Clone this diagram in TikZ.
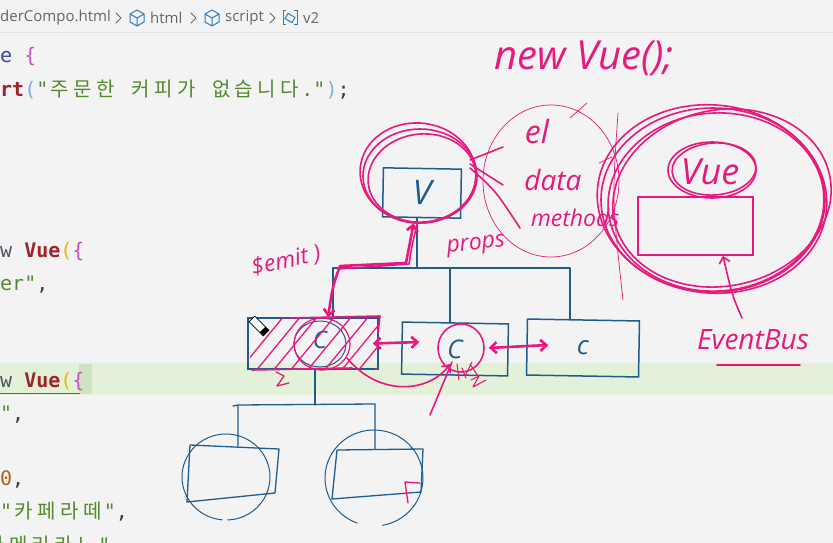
\documentclass[tikz,border=0pt]{standalone}
\usepackage{fontspec}
\setmainfont{Open Sans}
\newfontfamily\codefont{DejaVu Sans Mono}
\newfontfamily\krfont{Noto Sans CJK KR}
\newcommand\hk{\kern4.5pt}
\newcommand\hh{\kern2.25pt}
\usetikzlibrary{arrows.meta,calc}
\definecolor{bg}{HTML}{F3F3F3}
\definecolor{crumbline}{HTML}{E2E2E2}
\definecolor{band}{HTML}{E3F1D8}
\definecolor{penblue}{HTML}{1E5C8E}
\definecolor{penpink}{HTML}{E8197D}
\definecolor{kwred}{HTML}{9E2427}
\definecolor{strgreen}{HTML}{548A2E}
\definecolor{numbrown}{HTML}{B0601E}
\definecolor{parenblue}{HTML}{6FB3E6}
\definecolor{parenyellow}{HTML}{E5B810}
\definecolor{bracepink}{HTML}{C64FC8}
\definecolor{plaintxt}{HTML}{3B3B3B}
\definecolor{kwblue}{HTML}{3A48A0}
\definecolor{kwgray}{HTML}{505060}
\definecolor{crumbtext}{HTML}{666666}
\definecolor{iconblue}{HTML}{2D7CC1}
\definecolor{matchbox}{HTML}{CFE2C2}
\begin{document}
\begin{tikzpicture}[x=1pt,y=-1pt,
  >={Straight Barb[length=6pt,width=11pt]},
  bbox/.style={draw=penblue, line width=1.5pt, inner sep=0pt, text=penblue, font=\itshape\fontsize{26}{28}\selectfont},
  bline/.style={draw=penblue, line width=1.3pt, line cap=round, line join=round},
  bthin/.style={draw=penblue, line width=1.0pt, line cap=round},
  pline/.style={draw=penpink, line width=1.6pt, line cap=round, line join=round},
  pthin/.style={draw=penpink, line width=0.7pt, line cap=round, line join=round},
  pthick/.style={draw=penpink, line width=2.6pt, line cap=round, line join=round},
  code/.style={anchor=base west, inner sep=0pt, text=plaintxt, font=\codefont\fontsize{20}{24}\selectfont},
  hand/.style={text=penpink, inner sep=0pt, font=\itshape\fontsize{24}{28}\selectfont},
  crumb/.style={anchor=west, inner sep=0pt, text=crumbtext, font=\fontsize{15}{18}\selectfont},
  chev/.style={draw=crumbtext, line width=0.8pt, line cap=round, line join=round},
  cubeic/.pic={\draw[iconblue, line width=1pt, line join=round] (0,-8) -- (7,-4) -- (7,4) -- (0,8) -- (-7,4) -- (-7,-4) -- cycle (-7,-4) -- (0,0) -- (7,-4) (0,0) -- (0,8);}
]
\useasboundingbox (0,0) rectangle (833,543);
\clip (0,0) rectangle (833,543);
\fill[bg] (0,0) rectangle (833,543);
\draw[crumbline, line width=0.8pt] (0,32.5) -- (833,32.5);
\fill[band] (0,363) rectangle (833,395);

% ---------- breadcrumb ----------
\node[crumb] (bc1) at (0,18) {derCompo.html};
\draw[chev] (116,13) -- (121,18) -- (116,23);
\pic at (137,18) {cubeic};
\node[crumb] (bc2) at (150,18) {html};
\draw[chev] (191,13) -- (196,18) -- (191,23);
\pic at (212,18) {cubeic};
\node[crumb] (bc3) at (225,18) {script};
\draw[chev] (270,13) -- (275,18) -- (270,23);
\draw[iconblue, line width=1pt] (286,11) -- (283,11) -- (283,25) -- (286,25);
\draw[iconblue, line width=1pt] (294,11) -- (297,11) -- (297,25) -- (294,25);
\draw[iconblue, line width=1pt, rotate around={-30:(290,18)}] (286,15) rectangle (294,21);
\node[crumb] (bc4) at (303,18) {v2};

% ---------- code ----------
\node[code] (l1) at (0,63) {\textcolor{kwblue}{e} \textcolor{bracepink}{\{}};
\node[code] (l2) at (0,96) {\textcolor{kwred}{\bfseries rt}\textcolor{parenblue}{(}\textcolor{strgreen}{"\hh{\krfont 주\hk 문\hk 한}\hh\ \hh{\krfont 커\hk 피\hk 가}\hh\ \hh{\krfont 없\hk 습\hk 니\hk 다}\hh."}\textcolor{parenblue}{)};};
\node[code] (l3) at (0,257) {\textcolor{kwgray}{w} \textcolor{kwred}{\bfseries Vue}\textcolor{parenyellow}{(}\textcolor{bracepink}{\{}};
\node[code] (l4) at (0,290) {\textcolor{strgreen}{er"},};
\fill[matchbox] (79,364) rectangle (92,394);
\draw[penpink, line width=0.6pt] (0,393.5) -- (80,393.5);
\node[code] (l5) at (0,387) {\textcolor{kwgray}{w} \textcolor{kwred}{\bfseries Vue}\textcolor{parenyellow}{(}\textcolor{bracepink}{\{}};
\node[code] (l6) at (0,420) {\textcolor{strgreen}{"},};
\node[code] (l7) at (0,485) {\textcolor{numbrown}{0},};
\node[code] (l8) at (0,518) {\textcolor{strgreen}{"\hh{\krfont 카\hk 페\hk 라\hk 떼}\hh"},};
\node[code] (l9) at (-14,552) {\textcolor{strgreen}{{\krfont 아\hk 메\hk 리\hk 카\hk 노}\hh"}};

% ---------- blue tree ----------
\node[bbox, minimum width=78pt, minimum height=49pt, rotate=-1, font=\itshape\fontsize{34}{36}\selectfont] (v) at (422,193) {V};
\node[bbox, minimum width=130pt, minimum height=51pt] (c1) at (313,343.5) {};
\node[bbox, minimum width=106pt, minimum height=52pt, rotate=-1] (c2) at (455,349) {C};
\node[bbox, minimum width=112pt, minimum height=56pt, rotate=-1] (c3) at (583,348) {c};
\node[text=penblue, font=\itshape\fontsize{24}{26}\selectfont, inner sep=0pt] (c1c) at (320,340) {C};
\draw[bthin] (320,344) ellipse [x radius=26, y radius=23];

\coordinate (jv) at (417,268);
\coordinate (jl) at (333,268);
\coordinate (jm) at (450,268);
\coordinate (jr) at (570,268);
\draw[bline] (jv |- v.south) -- (jv);
\draw[bline] (jl |- c1.north) -- (jl) -- (jr) -- (jr |- c3.north);
\draw[bline] (jm) -- (jm |- c2.north);

\coordinate (kc) at (315,405);
\coordinate (kl) at (238,405);
\coordinate (kr) at (375,404);
\coordinate (d1top) at (238,446);
\coordinate (d2top) at (375,449);
\draw[bline] (kc |- c1.south) -- (kc);
\draw[bline] (d1top) -- (kl) -- (233,406) (kl) -- (kr) -- (d2top);

% lower boxes
\draw[bline] (190,445) -- (279,449) -- (275,493) -- (187,502) -- cycle;
\draw[bline] (337,450) -- (423,449) -- (421,492) -- (332,499) -- cycle;
\draw[bthin] (226,477) ++(95:44 and 43) arc[start angle=95, end angle=448, x radius=44, y radius=43];
\draw[bthin] (374,478) ++(110:49 and 48) arc[start angle=110, end angle=440, x radius=49, y radius=48];
\draw[pline, line width=1.3pt] (420,483) -- (405,482) -- (408,503);

% ---------- pink annotations ----------
% circles around V
\draw[pline] (420,176) ellipse [x radius=57, y radius=47];
\draw[pline, rotate around={6:(422,178)}] (422,178) ellipse [x radius=54, y radius=44];
\draw[pline, rotate around={-5:(418,173)}] (418,173) ellipse [x radius=58, y radius=50];
\draw[pline] (470,160) -- (503,147);
\draw[pline] (470,164) -- (503,185);
\draw[pline] (470,168) .. controls (495,190) .. (520,228);

% el / data / methods bubble
\draw[pthin] (551,181) ellipse [x radius=68, y radius=76];
\draw[pthin] (570,118) -- (587,103);
\draw[pthin] (599,163) -- (612,157);
\draw[pthin] (618,113) .. controls (612,200) .. (623,300);
\node[hand, font=\itshape\fontsize{32}{34}\selectfont] (el) at (537,131) {el};
\node[hand, font=\itshape\fontsize{28}{30}\selectfont] (data) at (553,180) {data};
\node[hand, font=\itshape\fontsize{23}{26}\selectfont] (methods) at (575,218) {methods};

% new Vue();
\node[hand, font=\itshape\fontsize{40}{44}\selectfont] (newvue) at (584,58) {new Vue();};

% EventBus instance
\draw[pline] (713,200) ellipse [x radius=112, y radius=92];
\draw[pline, rotate around={4:(716,202)}] (716,202) ellipse [x radius=108, y radius=89];
\draw[pline, rotate around={-6:(712,199)}] (712,199) ellipse [x radius=115, y radius=94];
\draw[pline, rotate around={12:(722,198)}] (722,198) ellipse [x radius=110, y radius=88];
\draw[pline] (712,170) ellipse [x radius=44, y radius=28];
\draw[pline, rotate around={4:(714,169)}] (714,169) ellipse [x radius=42, y radius=26];
\node[hand, font=\itshape\fontsize{36}{38}\selectfont] (vuetxt) at (710,172) {Vue};
\node[draw=penpink, line width=1.6pt, minimum width=115pt, minimum height=58pt, inner sep=0pt] (ebrect) at (695.5,226) {};
\node[hand, font=\itshape\fontsize{28}{30}\selectfont] (eventbus) at (753,340) {EventBus};
\draw[pline, ->] (742,318) .. controls (732,295) .. (ebrect.south -| 723,0);
\draw[pline] (717,365) -- (800,365);

% props / $emit
\node[hand, font=\itshape\fontsize{23}{26}\selectfont, rotate=6] (props) at (476,246) {props};
\node[hand, font=\itshape\fontsize{23}{26}\selectfont, rotate=12] (emit) at (286,261) {\$emit )};
\draw[pthick, <->] ($(v.south)+(-8,5)$) .. controls (410,245) .. (406,263) -- (340,266) .. controls (333,285) .. (c1.north -| 328,0);
\draw[pline] ($(v.south)+(-4,4)$) .. controls (412,245) .. (409,264) -- (338,269);

% c1 hatch
\begin{scope}
\clip (250,318) rectangle (378,369);
\foreach \x in {238,255,...,390} \draw[pline, line width=1.3pt] (\x,372) -- (\x+46,316);
\end{scope}
\draw[pline] (290,318) -- (380,316) -- (378,333);
\draw[pline] (252,370) -- (352,368);
\draw[pline, line width=1.2pt] (322,344) ellipse [x radius=28, y radius=26];
\draw[pline, line width=1.3pt] (276,372) -- (284,376) -- (277,386) -- (289,383);

% c1 <-> c2 <-> c3
\draw[pthick, <->] (c1.east) ++(-6,0) -- ($(c2.west)+(18,-6)$);
\draw[pthick, <->] ($(c2.east)+(-20,-2)$) -- ($(c3.west)+(22,-2)$);
\draw[pline] (461,348) ellipse [x radius=23, y radius=24];
\draw[pline, ->] (347,358) .. controls (380,398) and (430,392) .. (450,364);
\draw[pline] (430,415) -- (452,362);
\draw[pline, line width=1.1pt] (457,364) -- (459,380) (462,368) -- (466,378) (466,374) -- (472,362) (470,364) -- (478,376);
\draw[pline, line width=1.1pt] (471,380) -- (479,376) -- (473,387) -- (486,380);

% pencil cursor
\begin{scope}[rotate around={-45:(259,326)}]
\draw[black, fill=white, line width=0.8pt] (249,322) rectangle (269,330);
\fill[black] (264,322) rectangle (269,330);
\end{scope}
\end{tikzpicture}
\end{document}
